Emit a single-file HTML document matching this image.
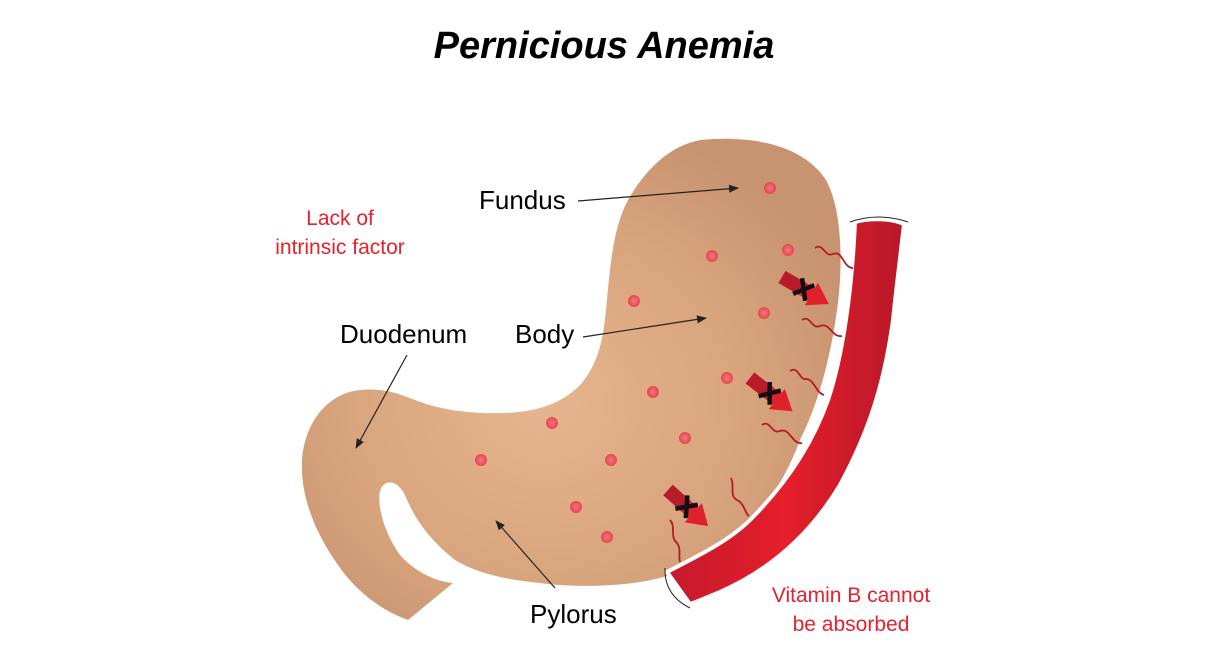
<!DOCTYPE html>
<html><head><meta charset="utf-8"><style>
html,body{margin:0;padding:0;background:#fff}
svg{display:block}
text{font-family:"Liberation Sans",sans-serif}
</style></head><body>
<svg width="1220" height="660" viewBox="0 0 1220 660" xmlns="http://www.w3.org/2000/svg">
<defs>
<radialGradient id="sg" cx="0.45" cy="0.55" r="0.6">
<stop offset="0" stop-color="#e6b48e"/>
<stop offset="0.6" stop-color="#d9a57e"/>
<stop offset="1" stop-color="#c89370"/>
</radialGradient>
<linearGradient id="vg" x1="0" y1="0" x2="1" y2="0">
<stop offset="0" stop-color="#c41a2c"/>
<stop offset="0.5" stop-color="#e51e2a"/>
<stop offset="1" stop-color="#b8182a"/>
</linearGradient>
<radialGradient id="dot"><stop offset="0" stop-color="#f07a7a"/><stop offset="1" stop-color="#e8454e"/></radialGradient>
<marker id="ah" markerWidth="10" markerHeight="8" refX="9" refY="4" orient="auto" markerUnits="userSpaceOnUse">
<path d="M0,0 L10,4 L0,8 Z" fill="#222"/></marker>
<g id="ba">
<path d="M0,-7 L34,-7 L34,-13 L54,0 L34,13 L34,7 L0,7 Z" fill="#e0202a"/>
<path d="M0,-7 L24,-7 L24,7 L0,7 Z" fill="#b81c2a"/>
<path d="M18,-9 L32,9 M32,-9 L18,9" stroke="#111" stroke-width="4.5"/>
</g>
</defs>

<text x="604" y="58" text-anchor="middle" font-size="38" font-weight="bold" font-style="italic" fill="#000">Pernicious Anemia</text>

<!-- stomach -->
<path d="M701,140 C740,136 800,140 826,180 C845,215 842,280 836,317 C828,370 815,410 800,440 C785,480 765,510 740,532 C710,560 683,575 640,582 C600,588 560,586 540,583 C510,580 480,575 455,560 C430,540 415,520 405,495 C398,482 388,478 381,488 C376,500 382,530 400,555 C418,575 440,582 453,583 L408,620 C380,610 355,590 338,565 C315,533 300,495 302,460 C305,420 330,392 361,390 C380,388 395,392 415,400 C440,410 470,414 504,413 C535,412 560,405 580,385 C598,365 603,340 606,310 C610,270 612,230 628,200 C645,170 670,145 701,140 Z" fill="url(#sg)"/>

<!-- vessel -->
<path d="M855,222 C870,218 890,218 904,224 C900,260 896,290 893,320 C885,380 870,430 840,485 C810,535 770,570 720,592 C705,598 697,602 690,604 L667,572 C700,555 730,540 750,520 C785,485 812,445 828,400 C843,355 852,290 855,222 Z" fill="url(#vg)" stroke="#fff" stroke-width="4"/>
<path d="M850,222 Q878,212 908,222" fill="none" stroke="#222" stroke-width="1"/>
<path d="M665,568 Q664,595 690,608" fill="none" stroke="#222" stroke-width="1"/>

<!-- squiggles -->
<g fill="none" stroke="#b31b25" stroke-width="1.8">
<path d="M815,248 c8,-6 10,10 18,6 c10,-4 10,14 20,14"/>
<path d="M802,320 c8,-6 10,10 18,6 c10,-4 12,12 22,10"/>
<path d="M790,371 c8,-6 10,10 16,8 c8,0 10,14 18,16"/>
<path d="M762,425 c8,-6 10,10 18,6 c10,-4 12,14 22,12"/>
<path d="M731,478 c4,8 -2,18 6,22 c8,4 8,14 12,16"/>
<path d="M670,520 c6,6 0,16 6,22 c6,6 2,14 4,20"/>
</g>

<!-- dots -->
<g fill="url(#dot)">
<circle cx="770" cy="188" r="6"/><circle cx="712" cy="256" r="6"/><circle cx="788" cy="250" r="6"/>
<circle cx="634" cy="301" r="6"/><circle cx="764" cy="313" r="6"/><circle cx="653" cy="392" r="6"/>
<circle cx="727" cy="378" r="6"/><circle cx="552" cy="423" r="6"/><circle cx="685" cy="438" r="6"/>
<circle cx="481" cy="460" r="6"/><circle cx="611" cy="460" r="6"/><circle cx="576" cy="507" r="6"/>
<circle cx="607" cy="537" r="6"/>
</g>

<!-- blocked arrows -->
<use href="#ba" transform="translate(782,277) rotate(30)"/>
<use href="#ba" transform="translate(750,378) rotate(38)"/>
<use href="#ba" transform="translate(668,490) rotate(42)"/>

<!-- labels -->
<g font-size="26" fill="#000">
<text x="479" y="209">Fundus</text>
<text x="515" y="343">Body</text>
<text x="340" y="343">Duodenum</text>
<text x="530" y="623">Pylorus</text>
</g>
<g stroke="#222" stroke-width="1.2" fill="none">
<line x1="578" y1="201" x2="738" y2="188" marker-end="url(#ah)"/>
<line x1="583" y1="337" x2="706" y2="318" marker-end="url(#ah)"/>
<line x1="407" y1="355" x2="356" y2="448" marker-end="url(#ah)"/>
<line x1="555" y1="588" x2="496" y2="521" marker-end="url(#ah)"/>
</g>
<g font-size="21" fill="#e3222d" text-anchor="middle">
<text x="340" y="225">Lack of</text>
<text x="340" y="254">intrinsic factor</text>
<text x="851" y="602">Vitamin B cannot</text>
<text x="851" y="631">be absorbed</text>
</g>
</svg>
</body></html>
